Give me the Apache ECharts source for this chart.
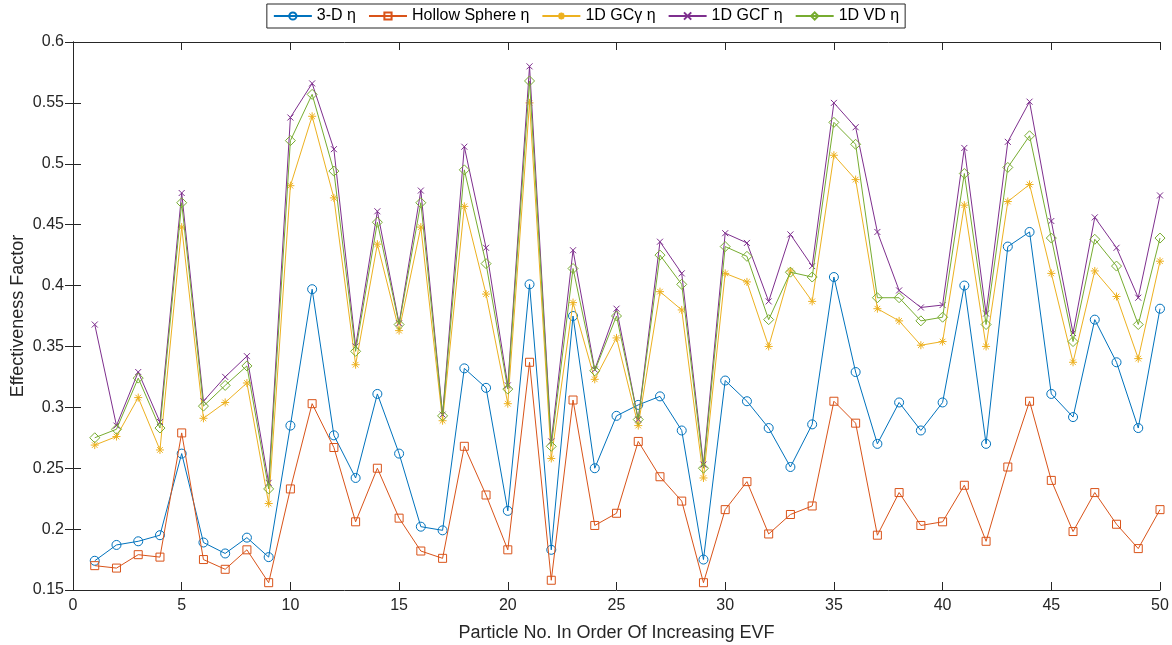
<!DOCTYPE html>
<html>
<head>
<meta charset="utf-8">
<script src="https://cdn.jsdelivr.net/npm/echarts@6/dist/echarts.min.js"></script>
<style>
  html, body { margin: 0; padding: 0; background: #fff; }
  #main { width: 1172px; height: 645px; }
</style>
</head>
<body>
<div id="main"></div>
<script>
// particle numbers (x)
var particleNo = [1, 2, 3, 4, 5, 6, 7, 8, 9, 10, 11, 12, 13, 14, 15, 16, 17, 18, 19, 20,
  21, 22, 23, 24, 25, 26, 27, 28, 29, 30, 31, 32, 33, 34, 35, 36, 37, 38, 39, 40,
  41, 42, 43, 44, 45, 46, 47, 48, 49, 50];

var eta3D = [0.174, 0.187, 0.190, 0.195, 0.262, 0.189, 0.180, 0.193, 0.177, 0.285,
  0.397, 0.277, 0.242, 0.311, 0.262, 0.202, 0.199, 0.332, 0.316, 0.215,
  0.401, 0.183, 0.375, 0.250, 0.293, 0.302, 0.309, 0.281, 0.175, 0.322,
  0.305, 0.283, 0.251, 0.286, 0.407, 0.329, 0.270, 0.304, 0.281, 0.304,
  0.400, 0.270, 0.432, 0.444, 0.311, 0.292, 0.372, 0.337, 0.283, 0.381];

var etaHollow = [0.170, 0.168, 0.179, 0.177, 0.279, 0.175, 0.167, 0.183, 0.156, 0.233,
  0.303, 0.267, 0.206, 0.250, 0.209, 0.182, 0.176, 0.268, 0.228, 0.183,
  0.337, 0.158, 0.306, 0.203, 0.213, 0.272, 0.243, 0.223, 0.156, 0.216,
  0.239, 0.196, 0.212, 0.219, 0.305, 0.287, 0.195, 0.230, 0.203, 0.206,
  0.236, 0.190, 0.251, 0.305, 0.240, 0.198, 0.230, 0.204, 0.184, 0.216];

var etaGCgamma = [0.269, 0.276, 0.308, 0.265, 0.448, 0.291, 0.304, 0.320, 0.221, 0.482,
  0.539, 0.472, 0.335, 0.434, 0.363, 0.448, 0.289, 0.465, 0.393, 0.303,
  0.550, 0.258, 0.386, 0.323, 0.357, 0.285, 0.395, 0.380, 0.242, 0.410,
  0.403, 0.350, 0.412, 0.387, 0.507, 0.487, 0.381, 0.371, 0.351, 0.354,
  0.466, 0.350, 0.469, 0.483, 0.410, 0.337, 0.412, 0.391, 0.340, 0.420];

var etaGCGamma = [0.368, 0.285, 0.329, 0.288, 0.476, 0.305, 0.325, 0.342, 0.238, 0.538,
  0.566, 0.512, 0.350, 0.461, 0.369, 0.478, 0.294, 0.514, 0.431, 0.318,
  0.580, 0.272, 0.429, 0.331, 0.381, 0.290, 0.436, 0.410, 0.253, 0.443,
  0.435, 0.387, 0.442, 0.416, 0.550, 0.530, 0.444, 0.396, 0.382, 0.384,
  0.513, 0.377, 0.518, 0.551, 0.453, 0.361, 0.456, 0.431, 0.390, 0.474];

var etaVD = [0.275, 0.282, 0.324, 0.283, 0.468, 0.301, 0.318, 0.334, 0.233, 0.519,
  0.557, 0.494, 0.346, 0.452, 0.368, 0.468, 0.293, 0.495, 0.418, 0.315,
  0.568, 0.268, 0.414, 0.330, 0.375, 0.290, 0.425, 0.401, 0.250, 0.432,
  0.424, 0.372, 0.411, 0.407, 0.534, 0.516, 0.390, 0.390, 0.371, 0.374,
  0.492, 0.368, 0.497, 0.523, 0.439, 0.354, 0.438, 0.416, 0.368, 0.439];

var seriesNames = ['3-D \u03b7', 'Hollow Sphere \u03b7', '1D GC\u03b3 \u03b7', '1D GC\u0393 \u03b7', '1D VD \u03b7'];

var colors = ['#0072BD', '#D95319', '#EDB120', '#7E2F8E', '#77AC30'];
var symbols = [
  'circle',
  'rect',
  'path://M5,0L5,10M0,5L10,5M1.5,1.5L8.5,8.5M8.5,1.5L1.5,8.5',
  'path://M0,0L10,10M10,0L0,10',
  'diamond'
];
var symbolSizes = [9, 8, 8, 6, 10];

var allValues = [eta3D, etaHollow, etaGCgamma, etaGCGamma, etaVD];

function pairs(vals) {
  return vals.map(function (v, i) { return [particleNo[i], v]; });
}

var chart = echarts.init(document.getElementById('main'));
var font = 'Liberation Sans, Arial, sans-serif';

var series = allValues.map(function (vals, k) {
  return {
    name: seriesNames[k],
    type: 'line',
    data: pairs(vals),
    symbol: symbols[k],
    symbolSize: symbolSizes[k],
    showAllSymbol: true,
    lineStyle: { color: colors[k], width: 1 },
    itemStyle: { color: 'rgba(255,255,255,0)', borderColor: colors[k], borderWidth: 1 },
    emphasis: { disabled: true },
    z: 2 + k
  };
});

var axisLine = { show: true, lineStyle: { color: '#262626', width: 1 } };

var option = {
  animation: false,
  backgroundColor: '#fff',
  legend: {
    top: 4,
    left: 'center',
    data: seriesNames,
    backgroundColor: '#fff',
    borderColor: '#262626',
    borderWidth: 1,
    padding: [4, 6, 4, 6],
    itemGap: 12,
    itemWidth: 38,
    itemHeight: 9,
    textStyle: { fontFamily: font, fontSize: 16, color: '#000' }
  },
  grid: { left: 73, right: 12, top: 42, bottom: 55, containLabel: false, outerBoundsMode: 'none' },
  xAxis: [{
    type: 'value',
    min: 0,
    max: 50,
    interval: 5,
    name: 'Particle No. In Order Of Increasing EVF',
    nameLocation: 'middle',
    nameGap: 34,
    nameMoveOverlap: false,
    nameTextStyle: { fontFamily: font, fontSize: 18, color: '#262626' },
    axisLine: axisLine,
    axisTick: { inside: true, length: 8, lineStyle: { color: '#262626' } },
    axisLabel: { fontFamily: font, fontSize: 16, color: '#262626', margin: 8 },
    splitLine: { show: false }
  }, {
    type: 'value',
    position: 'top',
    min: 0,
    max: 50,
    interval: 5,
    axisLine: axisLine,
    axisTick: { inside: true, length: 8, lineStyle: { color: '#262626' } },
    axisLabel: { show: false },
    splitLine: { show: false }
  }],
  yAxis: [{
    type: 'value',
    min: 0.15,
    max: 0.6,
    interval: 0.05,
    name: 'Effectiveness Factor',
    nameLocation: 'middle',
    nameGap: 46,
    nameMoveOverlap: false,
    nameTextStyle: { fontFamily: font, fontSize: 18, color: '#262626' },
    axisLine: axisLine,
    axisTick: { inside: true, length: 8, lineStyle: { color: '#262626' } },
    axisLabel: {
      fontFamily: font, fontSize: 16, color: '#262626', margin: 9,
      formatter: function (v) { return String(Math.round(v * 100) / 100); }
    },
    splitLine: { show: false }
  }, {
    type: 'value',
    position: 'right',
    min: 0.15,
    max: 0.6,
    interval: 0.05,
    axisLine: axisLine,
    axisTick: { inside: true, length: 8, lineStyle: { color: '#262626' } },
    axisLabel: { show: false },
    splitLine: { show: false }
  }],
  series: series
};

chart.setOption(option);
</script>
</body>
</html>
